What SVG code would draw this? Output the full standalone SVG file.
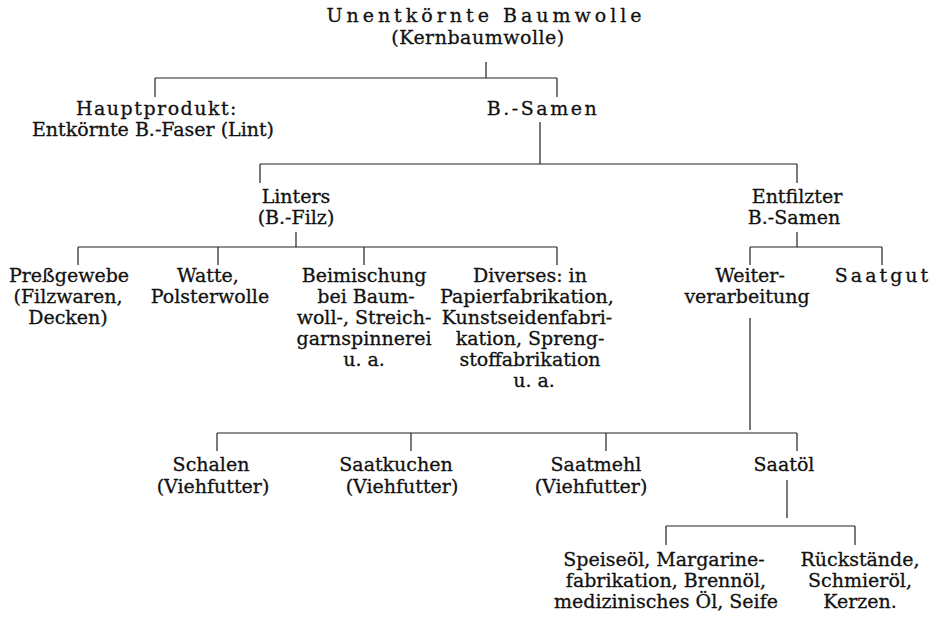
<svg xmlns="http://www.w3.org/2000/svg" width="939" height="618" viewBox="0 0 939 618">
<style>
text{font-family:"DejaVu Serif","Liberation Serif",serif;font-size:19px;fill:#111;stroke:#111;stroke-width:0.3;text-anchor:middle}
.sp{letter-spacing:4px}
.c path{stroke:#222;stroke-width:1.2;fill:none}
</style>
<rect width="939" height="618" fill="#fff"/>
<g class="c" id="connectors">
<path d="M486 62V78M155 78H557M155 78V97M557 78V97"/>
<path d="M540 122V164M260 164H797M260 164V183M797 164V183"/>
<path d="M296 232V247M78 247H557M78 247V265M218 247V265M364 247V265M557 247V265"/>
<path d="M797 232V247M750 247H882M750 247V265M882 247V265"/>
<path d="M750 318V430M217 433H797M217 433V451M411 433V451M606 433V451M797 433V451"/>
<path d="M787 480V518M666 526H855M666 526V545M855 526V545"/>
</g>
<g id="n-root"><text x="486" y="22" class="sp">Unentkörnte Baumwolle</text><text x="478" y="44" style="letter-spacing:0.5px">(Kernbaumwolle)</text></g>
<g id="n-haupt"><text x="157" y="115" style="letter-spacing:1.5px">Hauptprodukt:</text><text x="153" y="136">Entkörnte B.-Faser (Lint)</text></g>
<g id="n-samen"><text x="543" y="115" style="letter-spacing:2.5px">B.-Samen</text></g>
<g id="n-linters"><text x="296" y="203">Linters</text><text x="296" y="224">(B.-Filz)</text></g>
<g id="n-entfilzter"><text x="797" y="203">Entfilzter</text><text x="794" y="224">B.-Samen</text></g>
<g id="n-pressgewebe"><text x="69" y="282">Preßgewebe</text><text x="68" y="303">(Filzwaren,</text><text x="68" y="324">Decken)</text></g>
<g id="n-watte"><text x="208" y="282">Watte,</text><text x="210" y="303">Polsterwolle</text></g>
<g id="n-beimischung"><text x="364" y="282">Beimischung</text><text x="366" y="303">bei Baum-</text><text x="364" y="324">woll-, Streich-</text><text x="364" y="345">garnspinnerei</text><text x="364" y="366">u. a.</text></g>
<g id="n-diverses"><text x="530" y="282">Diverses: in</text><text x="527" y="303">Papierfabrikation,</text><text x="527" y="324">Kunstseidenfabri-</text><text x="530" y="345">kation, Spreng-</text><text x="530" y="366">stoffabrikation</text><text x="534" y="387">u. a.</text></g>
<g id="n-weiter"><text x="750" y="282">Weiter-</text><text x="747" y="303">verarbeitung</text></g>
<g id="n-saatgut"><text x="883" y="282" style="letter-spacing:3px">Saatgut</text></g>
<g id="n-schalen"><text x="211" y="471">Schalen</text><text x="213" y="493">(Viehfutter)</text></g>
<g id="n-saatkuchen"><text x="396" y="471">Saatkuchen</text><text x="402" y="493">(Viehfutter)</text></g>
<g id="n-saatmehl"><text x="596" y="471">Saatmehl</text><text x="591" y="493">(Viehfutter)</text></g>
<g id="n-saatoel"><text x="784" y="471">Saatöl</text></g>
<g id="n-speiseoel"><text x="664" y="566">Speiseöl, Margarine-</text><text x="666" y="587">fabrikation, Brennöl,</text><text x="666" y="608">medizinisches Öl, Seife</text></g>
<g id="n-rueckstaende"><text x="860" y="566">Rückstände,</text><text x="860" y="587">Schmieröl,</text><text x="860" y="608">Kerzen.</text></g>
</svg>
